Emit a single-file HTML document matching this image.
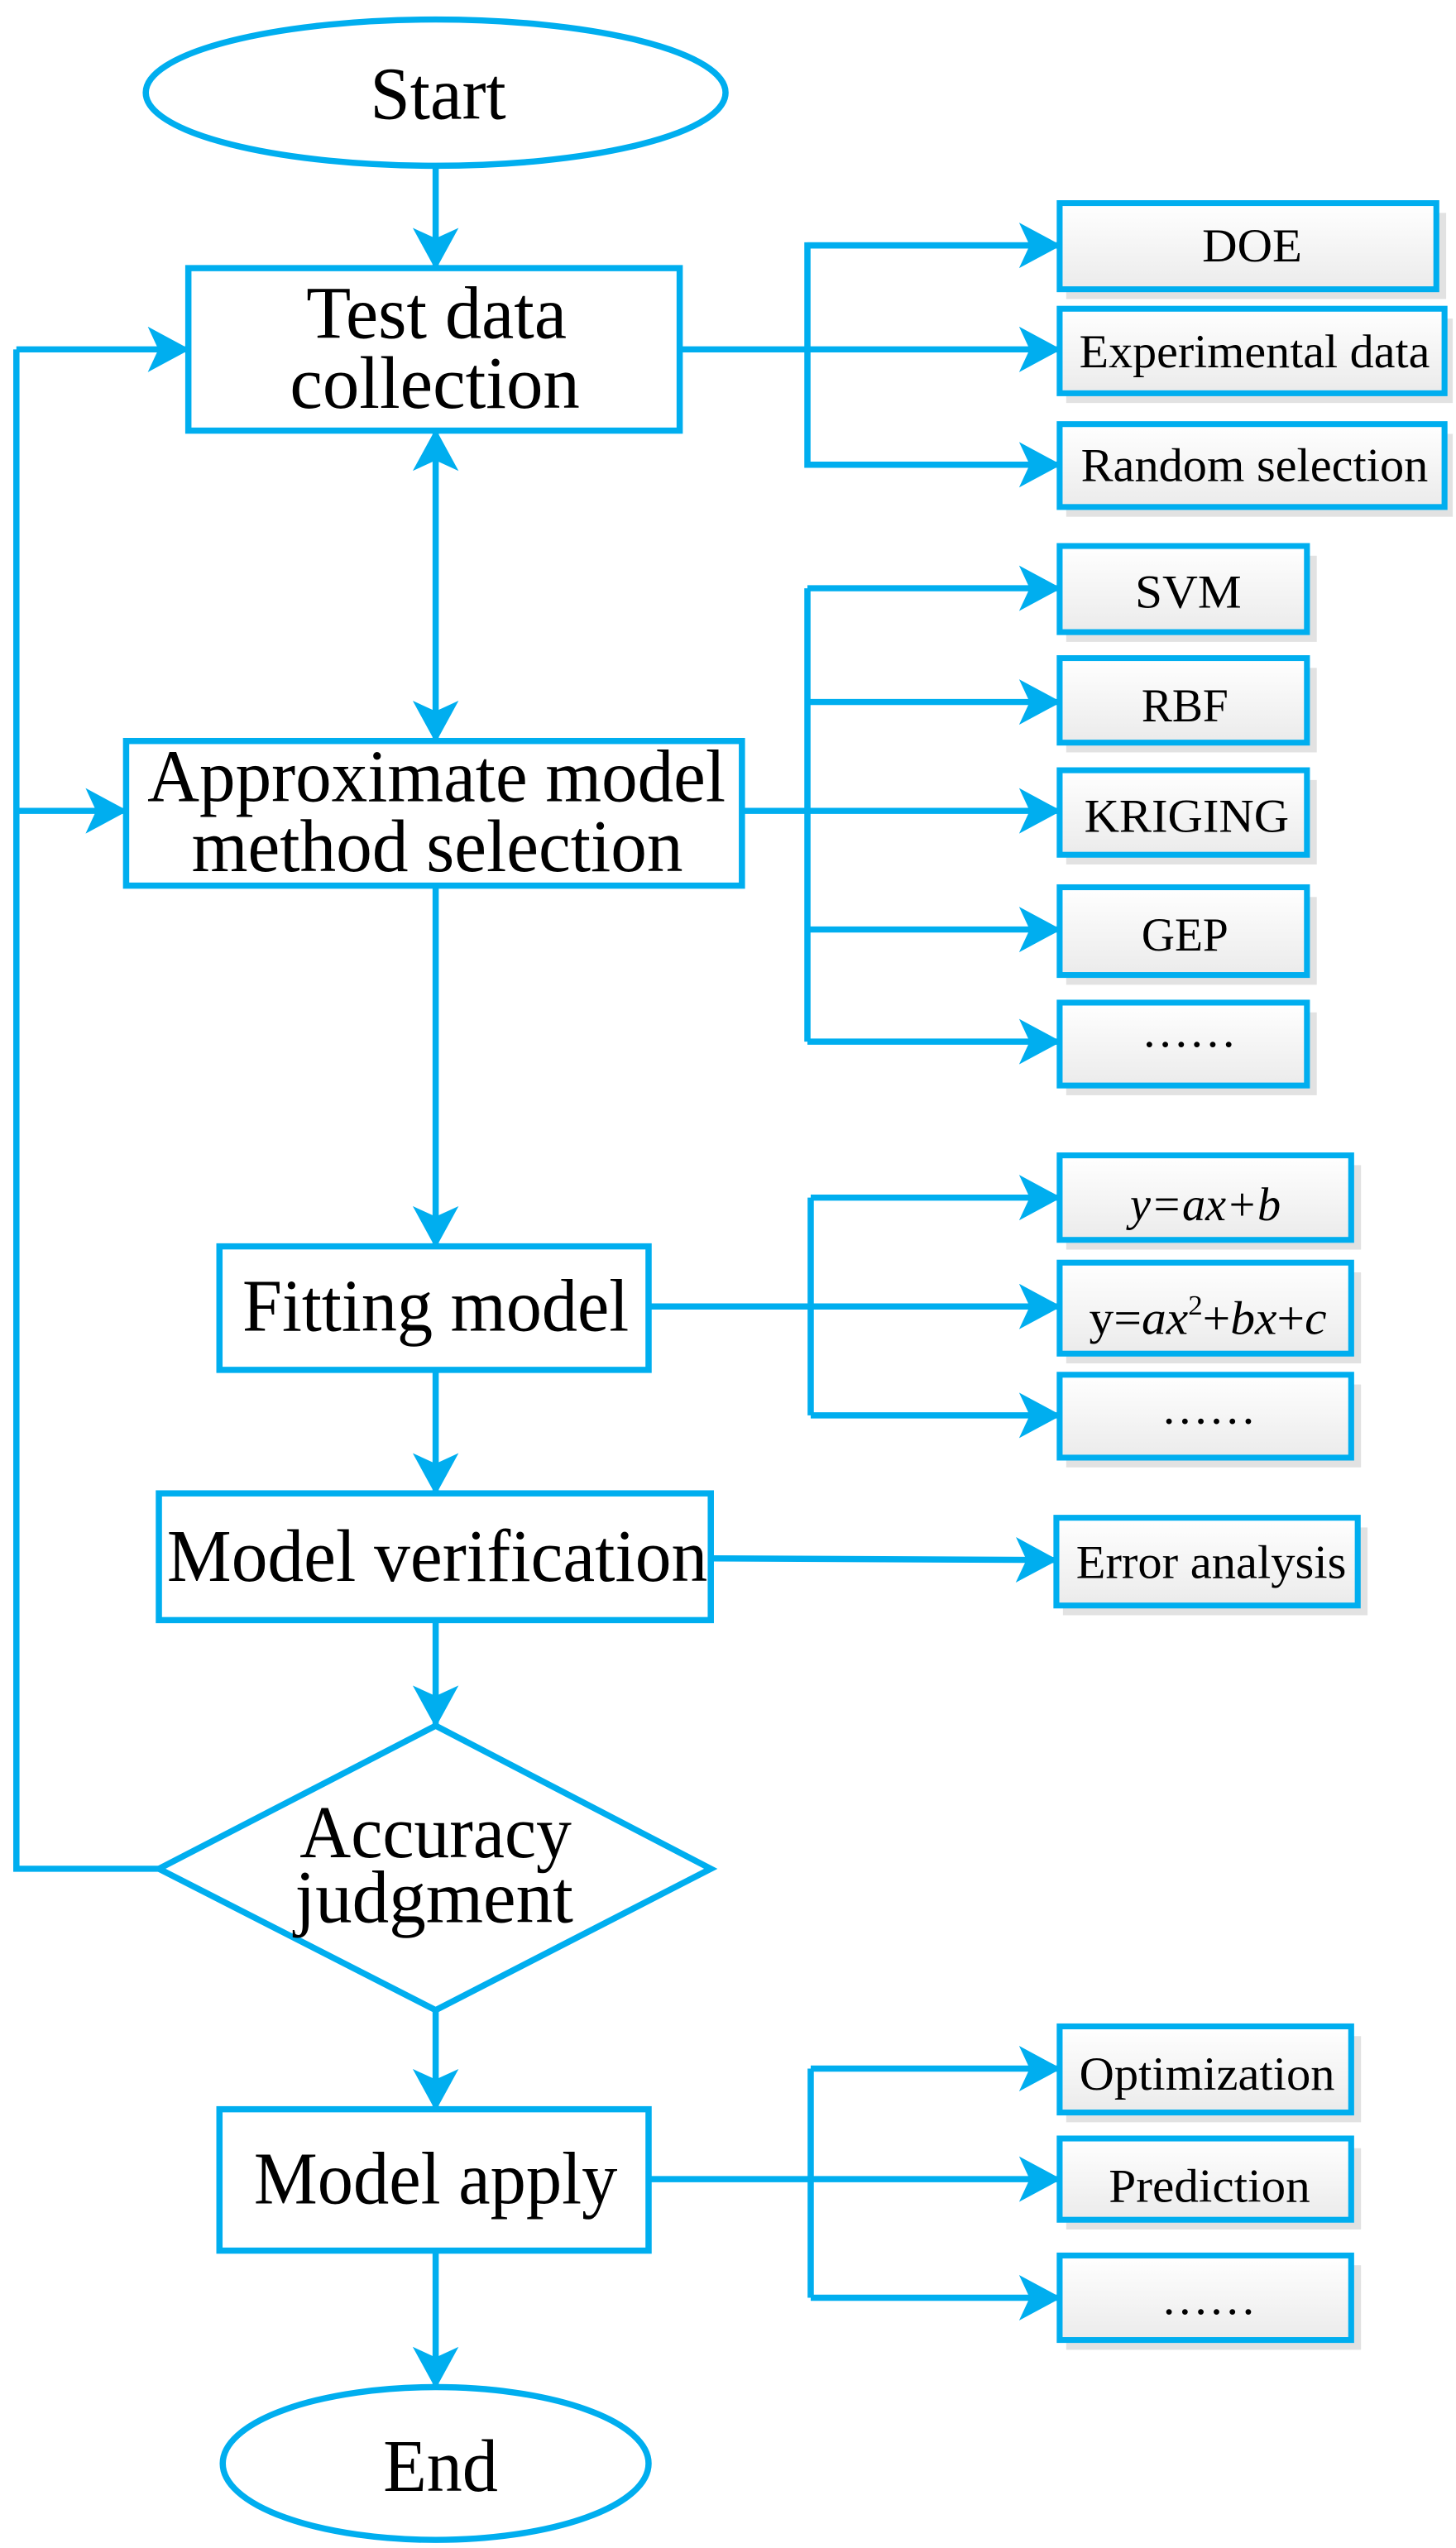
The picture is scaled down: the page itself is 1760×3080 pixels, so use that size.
<!DOCTYPE html>
<html><head><meta charset="utf-8"><style>html,body{margin:0;padding:0;background:#fff}svg{display:block}</style></head>
<body>
<svg width="1760" height="3080" viewBox="0 0 889 1568" preserveAspectRatio="none" xmlns="http://www.w3.org/2000/svg" font-family="'Liberation Serif', serif">
<defs>
<linearGradient id="g" x1="0" y1="0" x2="0" y2="1"><stop offset="0" stop-color="#ffffff"/><stop offset="1" stop-color="#ebebeb"/></linearGradient>
<marker id="a" markerUnits="userSpaceOnUse" markerWidth="28" markerHeight="28" viewBox="0 0 24 26" refX="23" refY="13" orient="auto">
<path d="M0,0 L24,13 L0,26 L6,13 Z" fill="#00aeef"/></marker>
<marker id="as" markerUnits="userSpaceOnUse" markerWidth="28" markerHeight="28" viewBox="0 0 24 26" refX="23" refY="13" orient="auto-start-reverse">
<path d="M0,0 L24,13 L0,26 L6,13 Z" fill="#00aeef"/></marker>
</defs>
<g stroke="#00aeef" stroke-width="3.8" fill="none">
<ellipse cx="266" cy="57" rx="177" ry="45" fill="#fff"/>
<rect x="115" y="165" width="300" height="100" fill="#fff"/>
<rect x="77" y="456" width="376" height="89" fill="#fff"/>
<rect x="134" y="767" width="262" height="76" fill="#fff"/>
<rect x="97" y="919" width="337" height="78" fill="#fff"/>
<polygon points="266,1062 434,1150 266,1237 97,1150" fill="#fff"/>
<rect x="134" y="1298" width="262" height="87" fill="#fff"/>
<ellipse cx="266" cy="1516" rx="130" ry="47" fill="#fff"/>
<line x1="266" y1="102" x2="266" y2="165" marker-end="url(#a)"/>
<line x1="266" y1="265" x2="266" y2="456" marker-start="url(#as)" marker-end="url(#a)"/>
<line x1="266" y1="545" x2="266" y2="767" marker-end="url(#a)"/>
<line x1="266" y1="843" x2="266" y2="919" marker-end="url(#a)"/>
<line x1="266" y1="997" x2="266" y2="1062" marker-end="url(#a)"/>
<line x1="266" y1="1237" x2="266" y2="1298" marker-end="url(#a)"/>
<line x1="266" y1="1385" x2="266" y2="1469" marker-end="url(#a)"/>
<polyline points="97,1150 10,1150 10,215"/>
<line x1="10" y1="215" x2="115" y2="215" marker-end="url(#a)"/>
<line x1="10" y1="499" x2="77" y2="499" marker-end="url(#a)"/>
<line x1="415" y1="215" x2="647" y2="215" marker-end="url(#a)"/>
<polyline points="647,151 493,151 493,286 647,286"/>
<line x1="493" y1="151" x2="647" y2="151" marker-end="url(#a)"/>
<line x1="493" y1="286" x2="647" y2="286" marker-end="url(#a)"/>
<line x1="453" y1="499" x2="647" y2="499" marker-end="url(#a)"/>
<line x1="493" y1="362" x2="493" y2="641"/>
<line x1="493" y1="362" x2="647" y2="362" marker-end="url(#a)"/>
<line x1="493" y1="432" x2="647" y2="432" marker-end="url(#a)"/>
<line x1="493" y1="572" x2="647" y2="572" marker-end="url(#a)"/>
<line x1="493" y1="641" x2="647" y2="641" marker-end="url(#a)"/>
<line x1="396" y1="804" x2="647" y2="804" marker-end="url(#a)"/>
<line x1="495" y1="737" x2="495" y2="871"/>
<line x1="495" y1="737" x2="647" y2="737" marker-end="url(#a)"/>
<line x1="495" y1="871" x2="647" y2="871" marker-end="url(#a)"/>
<line x1="434" y1="959" x2="645" y2="960" marker-end="url(#a)"/>
<line x1="396" y1="1341" x2="647" y2="1341" marker-end="url(#a)"/>
<line x1="495" y1="1273" x2="495" y2="1414"/>
<line x1="495" y1="1273" x2="647" y2="1273" marker-end="url(#a)"/>
<line x1="495" y1="1414" x2="647" y2="1414" marker-end="url(#a)"/>
</g>
<g>
<g fill="#e2e2e2">
<rect x="651" y="131" width="232" height="53"/>
<rect x="651" y="196" width="236" height="52"/>
<rect x="651" y="267" width="236" height="51"/>
<rect x="651" y="342" width="153" height="53"/>
<rect x="651" y="411" width="153" height="52"/>
<rect x="651" y="480" width="153" height="52"/>
<rect x="651" y="552" width="153" height="54"/>
<rect x="651" y="623" width="153" height="51"/>
<rect x="651" y="717" width="180" height="52"/>
<rect x="651" y="783" width="180" height="56"/>
<rect x="651" y="852" width="180" height="51"/>
<rect x="649" y="940" width="186" height="54"/>
<rect x="651" y="1253" width="180" height="53"/>
<rect x="651" y="1322" width="180" height="50"/>
<rect x="651" y="1394" width="180" height="52"/>
</g>
<g fill="url(#g)" stroke="#00aeef" stroke-width="3.6">
<rect x="647" y="125" width="230" height="53"/>
<rect x="647" y="190" width="235" height="52"/>
<rect x="647" y="261" width="235" height="51"/>
<rect x="647" y="336" width="151" height="53"/>
<rect x="647" y="405" width="151" height="52"/>
<rect x="647" y="474" width="151" height="52"/>
<rect x="647" y="546" width="151" height="54"/>
<rect x="647" y="617" width="151" height="51"/>
<rect x="647" y="711" width="178" height="52"/>
<rect x="647" y="777" width="178" height="56"/>
<rect x="647" y="846" width="178" height="51"/>
<rect x="645" y="934" width="184" height="54"/>
<rect x="647" y="1247" width="178" height="53"/>
<rect x="647" y="1316" width="178" height="50"/>
<rect x="647" y="1388" width="178" height="52"/>
</g>
</g>
<g fill="#000" font-size="46">
<text x="226" y="73" textLength="83" lengthAdjust="spacingAndGlyphs">Start</text>
<text x="187" y="208" textLength="159" lengthAdjust="spacingAndGlyphs">Test data</text>
<text x="177" y="251" textLength="177" lengthAdjust="spacingAndGlyphs">collection</text>
<text x="90" y="493" textLength="353" lengthAdjust="spacingAndGlyphs">Approximate model</text>
<text x="117" y="536" textLength="300" lengthAdjust="spacingAndGlyphs">method selection</text>
<text x="148" y="819" textLength="236" lengthAdjust="spacingAndGlyphs">Fitting model</text>
<text x="102" y="973" textLength="330" lengthAdjust="spacingAndGlyphs">Model verification</text>
<text x="183" y="1143" textLength="166" lengthAdjust="spacingAndGlyphs">Accuracy</text>
<text x="180" y="1183" textLength="170" lengthAdjust="spacingAndGlyphs">judgment</text>
<text x="155" y="1356" textLength="222" lengthAdjust="spacingAndGlyphs">Model apply</text>
<text x="234" y="1533" textLength="70" lengthAdjust="spacingAndGlyphs">End</text>
</g>
<g fill="#000" font-size="29">
<text x="734" y="161" textLength="61" lengthAdjust="spacingAndGlyphs">DOE</text>
<text x="659" y="226" textLength="214" lengthAdjust="spacingAndGlyphs">Experimental data</text>
<text x="660" y="296" textLength="212" lengthAdjust="spacingAndGlyphs">Random selection</text>
<text x="693" y="374" textLength="65" lengthAdjust="spacingAndGlyphs">SVM</text>
<text x="697" y="444" textLength="53" lengthAdjust="spacingAndGlyphs">RBF</text>
<text x="662" y="512" textLength="125" lengthAdjust="spacingAndGlyphs">KRIGING</text>
<text x="697" y="585" textLength="53" lengthAdjust="spacingAndGlyphs">GEP</text>
<text x="697" y="644" textLength="58" lengthAdjust="spacingAndGlyphs">……</text>
<text x="690" y="751" textLength="92" lengthAdjust="spacingAndGlyphs" font-style="italic">y=ax+b</text>
<text x="665" y="821" textLength="145" lengthAdjust="spacingAndGlyphs">y=<tspan font-style="italic">ax</tspan><tspan font-size="17" dy="-12">2</tspan><tspan dy="12">+</tspan><tspan font-style="italic">bx</tspan>+<tspan font-style="italic">c</tspan></text>
<text x="709" y="876" textLength="58" lengthAdjust="spacingAndGlyphs">……</text>
<text x="657" y="971" textLength="165" lengthAdjust="spacingAndGlyphs">Error analysis</text>
<text x="659" y="1286" textLength="156" lengthAdjust="spacingAndGlyphs">Optimization</text>
<text x="677" y="1355" textLength="123" lengthAdjust="spacingAndGlyphs">Prediction</text>
<text x="709" y="1424" textLength="58" lengthAdjust="spacingAndGlyphs">……</text>
</g>
</svg>
</body></html>
